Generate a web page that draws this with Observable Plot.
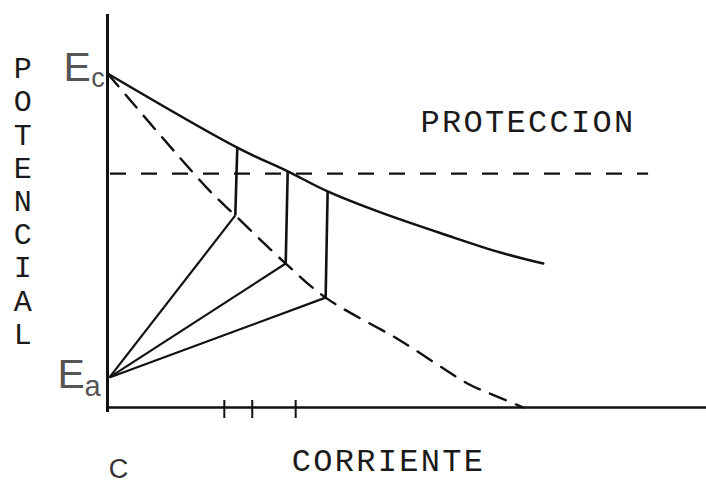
<!DOCTYPE html>
<html>
<head>
<meta charset="utf-8">
<script src="https://cdn.jsdelivr.net/npm/d3@7"></script>
<script src="https://cdn.jsdelivr.net/npm/@observablehq/plot@0.6"></script>
<style>
  html, body { margin: 0; padding: 0; background: #fff; }
  #chart svg { display: block; overflow: visible; background: #fff; }
</style>
</head>
<body>
<div id="chart"></div>
<script>
// Polarization curve (solid): current vs potential, from Ec down
const solidCurrent   = [0, 2.60, 3.61, 4.41, 5.47, 6.81, 7.87, 8.73];
const solidPotential = [1.0, 0.778, 0.707, 0.647, 0.584, 0.515, 0.464, 0.431];

// Dashed curve from Ec to the current axis
const dashCurrent   = [0, 2.00, 2.56, 3.57, 4.37, 5.87, 7.21, 7.61, 8.33];
const dashPotential = [1.0, 0.656, 0.575, 0.431, 0.329, 0.200, 0.072, 0.045, 0];

// Key potentials
const Ec = 1.0;
const Ea = 0.09;
const protectionPotential = 0.70;
const protectionEnd = 10.84;

// Operating points: top on solid curve, bottom on dashed curve
const opTopCurrent      = [2.60, 3.61, 4.41];
const opTopPotential    = [0.778, 0.707, 0.647];
const opBottomCurrent   = [2.56, 3.57, 4.37];
const opBottomPotential = [0.575, 0.431, 0.329];

// Tick marks on the current axis
const tickCurrent = [2.34, 2.90, 3.77];

// Labels
const yLetters = ["P","O","T","E","N","C","I","A","L"];
const xTitle = "CORRIENTE";
const zoneLabel = "PROTECCION";
const originLabel = "C";

const solid = solidCurrent.map((c, i) => ({c, p: solidPotential[i]}));
const dashed = dashCurrent.map((c, i) => ({c, p: dashPotential[i]}));
const ops = opTopCurrent.map((c, i) => ({
  c1: c, p1: opTopPotential[i], c2: opBottomCurrent[i], p2: opBottomPotential[i]
}));
const letters = yLetters.map((t, i) => ({t, i}));

const ink = "#111";
const mono = "'Liberation Mono', 'DejaVu Sans Mono', monospace";
const sans = "'Liberation Sans', Arial, sans-serif";

// letter centres for POTENCIAL, stacked downward (potential units)
const letterTop = 1.015, letterStep = 0.0995;

const chart = Plot.plot({
  width: 706,
  height: 486,
  margin: 0,
  x: {domain: [0, 12], range: [107, 706], axis: null},
  y: {domain: [0, 1], range: [407, 73], axis: null},
  marks: [
    // axes
    Plot.ruleX([0], {y1: -0.015, y2: 1.177, stroke: ink, strokeWidth: 3}),
    Plot.ruleY([0], {x1: 0, x2: 12, stroke: ink, strokeWidth: 2.5}),
    Plot.ruleX(tickCurrent, {y1: -0.033, y2: 0.021, stroke: ink, strokeWidth: 2}),
    // protection potential
    Plot.ruleY([protectionPotential], {x1: 0.06, x2: protectionEnd, stroke: ink, strokeWidth: 2.2, strokeDasharray: "16,15"}),
    // dashed curve
    Plot.line(dashed, {x: "c", y: "p", curve: "catmull-rom", stroke: ink, strokeWidth: 2.4, strokeDasharray: "17,11"}),
    // solid curve
    Plot.line(solid, {x: "c", y: "p", curve: "catmull-rom", stroke: ink, strokeWidth: 2.5}),
    // lines from Ea to operating points
    Plot.link(ops, {x1: 0.04, y1: Ea, x2: "c2", y2: "p2", stroke: ink, strokeWidth: 2.2}),
    // vertical segments
    Plot.link(ops, {x1: "c1", y1: "p1", x2: "c2", y2: "p2", stroke: ink, strokeWidth: 2.6}),
    // y title letters
    Plot.text(letters, {x: -1.70, y: d => letterTop - d.i * letterStep, text: "t", fontFamily: mono, fontSize: 30, fill: "#1a1a1a", textAnchor: "middle", lineAnchor: "middle"}),
    // zone label
    Plot.text([zoneLabel], {x: 6.27, y: 0.855, text: d => d, fontFamily: mono, fontSize: 32, fill: "#1a1a1a", textAnchor: "start", lineAnchor: "middle"}),
    // x title
    Plot.text([xTitle], {x: 3.69, y: -0.160, text: d => d, fontFamily: mono, fontSize: 32, fill: "#1a1a1a", textAnchor: "start", lineAnchor: "middle"}),
    // origin label
    Plot.text([originLabel], {x: 0.22, y: -0.186, text: d => d, fontFamily: sans, fontSize: 27, fill: "#333", textAnchor: "middle", lineAnchor: "middle"}),
    // Ec label
    Plot.text(["E"], {x: -0.61, y: Ec + 0.016, text: d => d, fontFamily: sans, fontSize: 41, fontWeight: 300, fill: "#555", textAnchor: "middle", lineAnchor: "middle"}),
    Plot.text(["c"], {x: -0.19, y: 0.986, text: d => d, fontFamily: sans, fontSize: 27, fill: "#555", textAnchor: "middle", lineAnchor: "middle"}),
    // Ea label
    Plot.text(["E"], {x: -0.73, y: Ea + 0.009, text: d => d, fontFamily: sans, fontSize: 41, fontWeight: 300, fill: "#555", textAnchor: "middle", lineAnchor: "middle"}),
    Plot.text(["a"], {x: -0.30, y: 0.061, text: d => d, fontFamily: sans, fontSize: 29, fill: "#555", textAnchor: "middle", lineAnchor: "middle"})
  ]
});
document.getElementById("chart").appendChild(chart);

// typewriter-like spacing for the two horizontal titles
d3.select(chart).selectAll("text")
  .filter(function () { return this.textContent === zoneLabel || this.textContent === xTitle; })
  .style("letter-spacing", "2.3px");
</script>
</body>
</html>
